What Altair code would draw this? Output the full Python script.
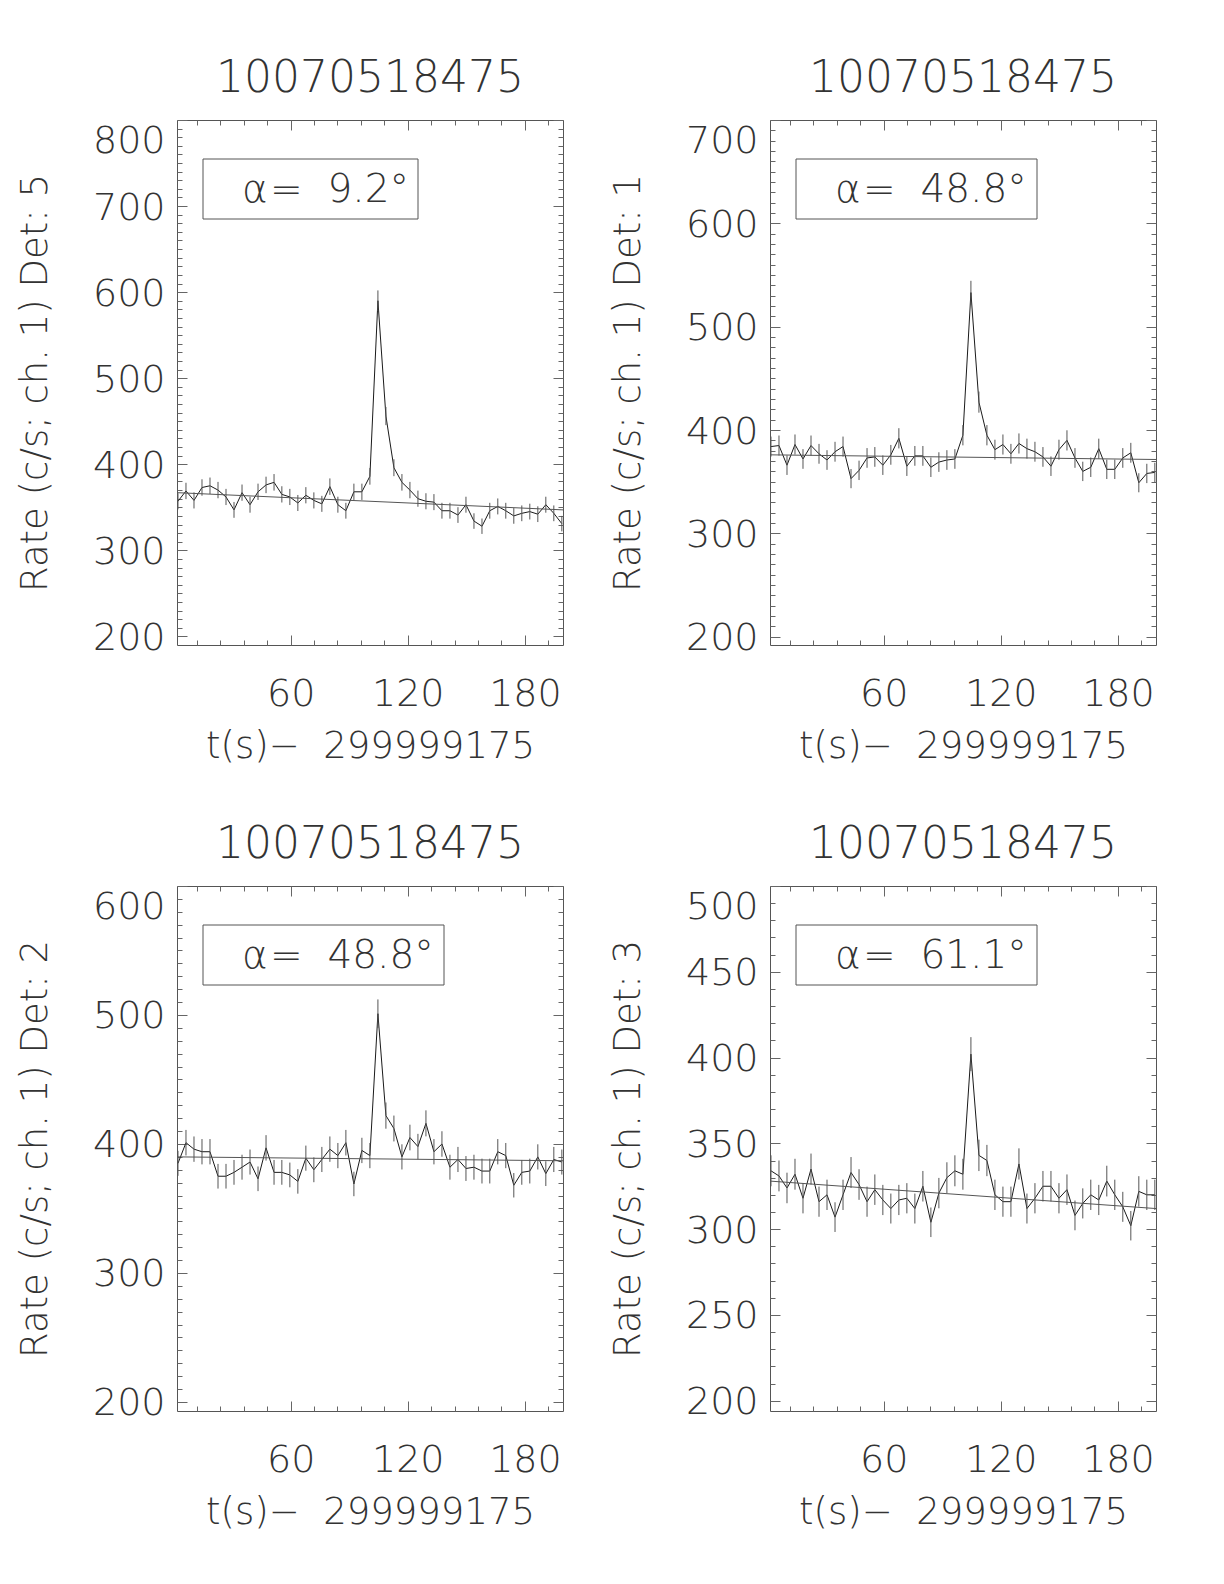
import altair as alt
import pandas as pd

# ---------------- data ----------------
times = [2.3, 6.4, 10.5, 14.6, 18.7, 22.8, 26.9, 31.0, 35.1, 39.2,
         43.3, 47.4, 51.5, 55.5, 59.6, 63.7, 67.8, 71.9, 76.0, 80.1,
         84.2, 88.3, 92.4, 96.5, 100.6, 104.7, 108.8, 112.9, 117.0, 121.1,
         125.2, 129.3, 133.4, 137.5, 141.6, 145.7, 149.8, 153.9, 158.0, 162.0,
         166.1, 170.2, 174.3, 178.4, 182.5, 186.6, 190.7, 194.8, 198.9]

rate_det5 = [357, 369, 358, 373, 375, 370, 362, 347, 367, 353,
             368, 376, 379, 365, 362, 355, 364, 358, 354, 374,
             353, 346, 368, 368, 386, 590, 456, 396, 379, 370,
             360, 357, 356, 346, 346, 341, 353, 334, 328, 346,
             351, 346, 340, 343, 345, 342, 353, 343, 331]
rate_det1 = [384, 385, 366, 386, 372, 385, 377, 371, 379, 384,
             353, 361, 373, 374, 366, 376, 392, 365, 375, 375,
             364, 369, 371, 372, 395, 533, 427, 395, 381, 386,
             377, 387, 382, 379, 374, 365, 381, 390, 373, 360,
             364, 382, 362, 362, 373, 378, 349, 358, 359]
rate_det2 = [385, 401, 396, 394, 394, 375, 375, 378, 382, 386,
             373, 397, 378, 378, 376, 371, 389, 380, 388, 396,
             391, 401, 369, 395, 391, 501, 422, 412, 390, 405,
             398, 416, 394, 400, 382, 388, 381, 382, 379, 379,
             394, 391, 368, 378, 379, 390, 377, 388, 386]
rate_det3 = [334, 331, 324, 332, 318, 335, 316, 320, 307, 320,
             333, 326, 316, 323, 317, 312, 317, 318, 312, 325,
             304, 321, 330, 334, 332, 402, 343, 340, 320, 316,
             316, 338, 312, 318, 325, 325, 318, 323, 308, 315,
             320, 317, 328, 320, 313, 302, 322, 320, 320]

fit_t = [1.8, 199.5]
fit_det5 = [367, 347]
fit_det1 = [376, 371.5]
fit_det2 = [390, 387]
fit_det3 = [328, 312]

dets = ["5", "1", "2", "3"]
alphas = ["9.2", "48.8", "48.8", "61.1"]
y_domains = [[190, 800], [192, 700], [193, 600], [194, 500]]
y_major = [[200, 300, 400, 500, 600, 700, 800],
           [200, 300, 400, 500, 600, 700],
           [200, 300, 400, 500, 600],
           [200, 250, 300, 350, 400, 450, 500]]
x_major = [60, 120, 180]
x_minor = [12, 24, 36, 48, 72, 84, 96, 108, 132, 144, 156, 168, 192]
title_text = "10070518475"
x_title = "t(s)\u2212\u00a0\u00a0299999175"

# ---------------- styling ----------------
FONT = "DejaVu Sans"
W, H = 386, 525
TXT = "#333333"
MAJ, MIN = 10, 5


def minor_of(dom, majors):
    vals = []
    v = 10 * int(dom[0] // 10)
    while v < dom[1]:
        if v > dom[0] and v not in majors:
            vals.append(v)
        v += 10
    return vals


def tick_axis(orient, offset, values, size):
    return alt.Axis(orient=orient, offset=offset, values=values, tickSize=size,
                    labels=False, domain=False, grid=False, title=None,
                    tickColor="#666666", tickWidth=1)


def panel(rates, fit_vals, det, alpha, ydom, ymaj, box_w):
    df = pd.DataFrame({"t": times, "rate": rates})
    fdf = pd.DataFrame({"t": fit_t, "rate": fit_vals})
    xs = alt.Scale(domain=[1.8, 199.5], nice=False, zero=False)
    ys = alt.Scale(domain=ydom, nice=False, zero=False)
    ymin = minor_of(ydom, ymaj)

    line = alt.Chart(df).mark_line(color="#1a1a1a", strokeWidth=1, clip=True).encode(
        x=alt.X("t:Q", scale=xs, axis=alt.Axis(
            orient="bottom", values=x_major, ticks=False, domain=False, grid=False,
            labelPadding=30, title=x_title, titlePadding=15,
            labelFont=FONT, labelFontSize=38, labelFontWeight=200, labelColor=TXT,
            titleFont=FONT, titleFontSize=37, titleFontWeight=200, titleColor=TXT)),
        y=alt.Y("rate:Q", scale=ys, axis=alt.Axis(
            orient="left", values=ymaj, ticks=False, domain=False, grid=False,
            labelPadding=12, labelFlush=True, labelOverlap=False, labelOffset=2,
            title=f"Rate (c/s; ch. 1) Det: {det}", titlePadding=38,
            labelFont=FONT, labelFontSize=38, labelFontWeight=200, labelColor=TXT,
            titleFont=FONT, titleFontSize=37, titleFontWeight=200, titleColor=TXT)),
    )
    errs = alt.Chart(df).transform_calculate(
        lo="datum.rate - sqrt(datum.rate / 4.096)",
        hi="datum.rate + sqrt(datum.rate / 4.096)",
    ).mark_rule(color="#555555", strokeWidth=1, clip=True).encode(
        x=alt.X("t:Q", scale=xs, axis=tick_axis("top", -H, x_major, MAJ)),
        y=alt.Y("lo:Q", scale=ys, axis=tick_axis("right", -W, ymaj, MAJ)),
        y2="hi:Q",
    )
    fit = alt.Chart(fdf).mark_line(color="#555555", strokeWidth=1, clip=True).encode(
        x=alt.X("t:Q", scale=xs, axis=tick_axis("bottom", -H, x_major, MAJ)),
        y=alt.Y("rate:Q", scale=ys, axis=tick_axis("left", -W, ymaj, MAJ)),
    )
    minor1 = alt.Chart(df).mark_point(opacity=0).encode(
        x=alt.X("t:Q", scale=xs, axis=tick_axis("top", -H, x_minor, MIN)),
        y=alt.Y("rate:Q", scale=ys, axis=tick_axis("right", -W, ymin, MIN)),
    )
    minor2 = alt.Chart(df).mark_point(opacity=0).encode(
        x=alt.X("t:Q", scale=xs, axis=tick_axis("bottom", -H, x_minor, MIN)),
        y=alt.Y("rate:Q", scale=ys, axis=tick_axis("left", -W, ymin, MIN)),
    )
    lab = pd.DataFrame({"a": ["\u03b1"], "v": [f"=\u00a0\u00a0{alpha}\u00b0"]})
    box = alt.Chart(lab).mark_rect(fillOpacity=0, stroke="#555555", strokeWidth=1).encode(
        x=alt.value(26), x2=alt.value(26 + box_w), y=alt.value(39), y2=alt.value(99))
    a_txt = alt.Chart(lab).mark_text(
        font=FONT, fontSize=39, fontWeight=200, color=TXT,
        align="left", baseline="alphabetic").encode(
        x=alt.value(65), y=alt.value(82), text="a:N")
    v_txt = alt.Chart(lab).mark_text(
        font=FONT, fontSize=39, fontWeight=200, color=TXT,
        align="left", baseline="alphabetic").encode(
        x=alt.value(93), y=alt.value(82), text="v:N")

    return alt.layer(line, errs, fit, minor1, minor2, box, a_txt, v_txt).resolve_axis(
        x="independent", y="independent"
    ).properties(
        width=W, height=H,
        title=alt.Title(title_text, offset=-16.5, baseline="alphabetic",
                        font=FONT, fontSize=44, fontWeight=200, color=TXT, anchor="middle"),
    )


rates = [rate_det5, rate_det1, rate_det2, rate_det3]
fits = [fit_det5, fit_det1, fit_det2, fit_det3]
box_ws = [215, 241, 241, 241]
panels = [panel(rates[i], fits[i], dets[i], alphas[i], y_domains[i], y_major[i], box_ws[i])
          for i in range(4)]

chart = alt.vconcat(
    alt.hconcat(panels[0], panels[1], spacing=42),
    alt.hconcat(panels[2], panels[3], spacing=42),
    spacing=57,
).properties(
    padding={"left": 7, "top": 48, "right": 5, "bottom": 5}
).configure_view(
    stroke="#555555", strokeWidth=1
)

chart.save("out.html", embed_options={"renderer": "svg", "actions": False})
